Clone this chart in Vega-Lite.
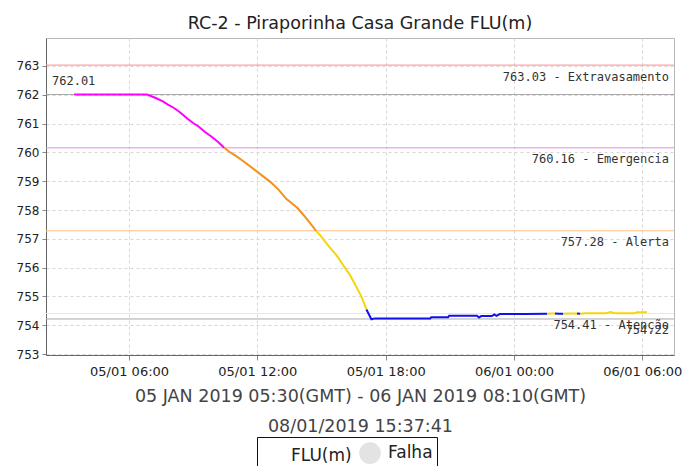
{
  "$schema": "https://vega.github.io/schema/vega-lite/v6.json",
  "width": 628,
  "height": 317,
  "autosize": "none",
  "padding": {"left": 46, "top": 38, "right": 12, "bottom": 111},
  "background": "white",
  "title": {
    "text": "RC-2 - Piraporinha Casa Grande FLU(m)",
    "anchor": "middle",
    "offset": 6,
    "font": "DejaVu Sans",
    "fontSize": 17.5,
    "fontWeight": "normal",
    "color": "#222222"
  },
  "config": {
    "view": {"stroke": "#b8b8b8"},
    "axis": {"gridDash": [3, 3], "gridColor": "#d6d6d6", "domainColor": "#888888", "tickColor": "#888888"}
  },
  "datasets": {
    "serie": [
      {"t": "2019-01-05T03:26:00Z", "v": 762.01, "nivel": "Emergencia", "seg": 1},
      {"t": "2019-01-05T04:30:00Z", "v": 762.01, "nivel": "Emergencia", "seg": 1},
      {"t": "2019-01-05T05:30:00Z", "v": 762.01, "nivel": "Emergencia", "seg": 1},
      {"t": "2019-01-05T06:50:00Z", "v": 762.01, "nivel": "Emergencia", "seg": 1},
      {"t": "2019-01-05T07:05:00Z", "v": 761.94, "nivel": "Emergencia", "seg": 1},
      {"t": "2019-01-05T07:18:00Z", "v": 761.87, "nivel": "Emergencia", "seg": 1},
      {"t": "2019-01-05T07:35:00Z", "v": 761.77, "nivel": "Emergencia", "seg": 1},
      {"t": "2019-01-05T07:49:00Z", "v": 761.66, "nivel": "Emergencia", "seg": 1},
      {"t": "2019-01-05T08:05:00Z", "v": 761.55, "nivel": "Emergencia", "seg": 1},
      {"t": "2019-01-05T08:20:00Z", "v": 761.42, "nivel": "Emergencia", "seg": 1},
      {"t": "2019-01-05T08:32:00Z", "v": 761.30, "nivel": "Emergencia", "seg": 1},
      {"t": "2019-01-05T08:44:00Z", "v": 761.17, "nivel": "Emergencia", "seg": 1},
      {"t": "2019-01-05T09:00:00Z", "v": 761.02, "nivel": "Emergencia", "seg": 1},
      {"t": "2019-01-05T09:15:00Z", "v": 760.90, "nivel": "Emergencia", "seg": 1},
      {"t": "2019-01-05T09:34:00Z", "v": 760.70, "nivel": "Emergencia", "seg": 1},
      {"t": "2019-01-05T09:50:00Z", "v": 760.56, "nivel": "Emergencia", "seg": 1},
      {"t": "2019-01-05T10:10:00Z", "v": 760.36, "nivel": "Emergencia", "seg": 1},
      {"t": "2019-01-05T10:27:00Z", "v": 760.16, "nivel": "Emergencia", "seg": 1},
      {"t": "2019-01-05T10:27:00Z", "v": 760.16, "nivel": "Alerta", "seg": 2},
      {"t": "2019-01-05T10:45:00Z", "v": 759.99, "nivel": "Alerta", "seg": 2},
      {"t": "2019-01-05T11:00:00Z", "v": 759.88, "nivel": "Alerta", "seg": 2},
      {"t": "2019-01-05T11:20:00Z", "v": 759.70, "nivel": "Alerta", "seg": 2},
      {"t": "2019-01-05T11:49:00Z", "v": 759.43, "nivel": "Alerta", "seg": 2},
      {"t": "2019-01-05T12:10:00Z", "v": 759.23, "nivel": "Alerta", "seg": 2},
      {"t": "2019-01-05T12:38:00Z", "v": 758.96, "nivel": "Alerta", "seg": 2},
      {"t": "2019-01-05T13:00:00Z", "v": 758.70, "nivel": "Alerta", "seg": 2},
      {"t": "2019-01-05T13:21:00Z", "v": 758.39, "nivel": "Alerta", "seg": 2},
      {"t": "2019-01-05T13:35:00Z", "v": 758.25, "nivel": "Alerta", "seg": 2},
      {"t": "2019-01-05T13:52:00Z", "v": 758.08, "nivel": "Alerta", "seg": 2},
      {"t": "2019-01-05T14:10:00Z", "v": 757.82, "nivel": "Alerta", "seg": 2},
      {"t": "2019-01-05T14:29:00Z", "v": 757.53, "nivel": "Alerta", "seg": 2},
      {"t": "2019-01-05T14:45:00Z", "v": 757.28, "nivel": "Alerta", "seg": 2},
      {"t": "2019-01-05T14:45:00Z", "v": 757.28, "nivel": "Atenção", "seg": 3},
      {"t": "2019-01-05T15:00:00Z", "v": 757.07, "nivel": "Atenção", "seg": 3},
      {"t": "2019-01-05T15:20:00Z", "v": 756.75, "nivel": "Atenção", "seg": 3},
      {"t": "2019-01-05T15:43:00Z", "v": 756.42, "nivel": "Atenção", "seg": 3},
      {"t": "2019-01-05T16:00:00Z", "v": 756.10, "nivel": "Atenção", "seg": 3},
      {"t": "2019-01-05T16:19:00Z", "v": 755.76, "nivel": "Atenção", "seg": 3},
      {"t": "2019-01-05T16:35:00Z", "v": 755.40, "nivel": "Atenção", "seg": 3},
      {"t": "2019-01-05T16:50:00Z", "v": 755.05, "nivel": "Atenção", "seg": 3},
      {"t": "2019-01-05T17:00:00Z", "v": 754.75, "nivel": "Atenção", "seg": 3},
      {"t": "2019-01-05T17:06:00Z", "v": 754.55, "nivel": "Atenção", "seg": 3},
      {"t": "2019-01-05T17:06:00Z", "v": 754.55, "nivel": "Normal", "seg": 4},
      {"t": "2019-01-05T17:20:00Z", "v": 754.21, "nivel": "Normal", "seg": 4},
      {"t": "2019-01-05T17:30:00Z", "v": 754.24, "nivel": "Normal", "seg": 4},
      {"t": "2019-01-05T18:30:00Z", "v": 754.24, "nivel": "Normal", "seg": 4},
      {"t": "2019-01-05T19:30:00Z", "v": 754.24, "nivel": "Normal", "seg": 4},
      {"t": "2019-01-05T20:05:00Z", "v": 754.24, "nivel": "Normal", "seg": 4},
      {"t": "2019-01-05T20:08:00Z", "v": 754.28, "nivel": "Normal", "seg": 4},
      {"t": "2019-01-05T20:55:00Z", "v": 754.28, "nivel": "Normal", "seg": 4},
      {"t": "2019-01-05T20:58:00Z", "v": 754.33, "nivel": "Normal", "seg": 4},
      {"t": "2019-01-05T22:16:00Z", "v": 754.33, "nivel": "Normal", "seg": 4},
      {"t": "2019-01-05T22:22:00Z", "v": 754.27, "nivel": "Normal", "seg": 4},
      {"t": "2019-01-05T22:28:00Z", "v": 754.32, "nivel": "Normal", "seg": 4},
      {"t": "2019-01-05T22:58:00Z", "v": 754.32, "nivel": "Normal", "seg": 4},
      {"t": "2019-01-05T23:05:00Z", "v": 754.38, "nivel": "Normal", "seg": 4},
      {"t": "2019-01-05T23:11:00Z", "v": 754.33, "nivel": "Normal", "seg": 4},
      {"t": "2019-01-05T23:20:00Z", "v": 754.39, "nivel": "Normal", "seg": 4},
      {"t": "2019-01-06T00:30:00Z", "v": 754.39, "nivel": "Normal", "seg": 4},
      {"t": "2019-01-06T01:33:00Z", "v": 754.40, "nivel": "Normal", "seg": 4},
      {"t": "2019-01-06T01:33:00Z", "v": 754.40, "nivel": "Atenção", "seg": 5},
      {"t": "2019-01-06T01:44:00Z", "v": 754.41, "nivel": "Atenção", "seg": 5},
      {"t": "2019-01-06T01:55:00Z", "v": 754.41, "nivel": "Atenção", "seg": 5},
      {"t": "2019-01-06T01:55:00Z", "v": 754.41, "nivel": "Normal", "seg": 6},
      {"t": "2019-01-06T02:06:00Z", "v": 754.40, "nivel": "Normal", "seg": 6},
      {"t": "2019-01-06T02:18:00Z", "v": 754.40, "nivel": "Normal", "seg": 6},
      {"t": "2019-01-06T02:18:00Z", "v": 754.40, "nivel": "Atenção", "seg": 7},
      {"t": "2019-01-06T02:35:00Z", "v": 754.41, "nivel": "Atenção", "seg": 7},
      {"t": "2019-01-06T02:57:00Z", "v": 754.41, "nivel": "Atenção", "seg": 7},
      {"t": "2019-01-06T02:57:00Z", "v": 754.41, "nivel": "Normal", "seg": 8},
      {"t": "2019-01-06T03:06:00Z", "v": 754.40, "nivel": "Normal", "seg": 8},
      {"t": "2019-01-06T03:06:00Z", "v": 754.40, "nivel": "Atenção", "seg": 9},
      {"t": "2019-01-06T03:20:00Z", "v": 754.42, "nivel": "Atenção", "seg": 9},
      {"t": "2019-01-06T04:19:00Z", "v": 754.42, "nivel": "Atenção", "seg": 9},
      {"t": "2019-01-06T04:31:00Z", "v": 754.46, "nivel": "Atenção", "seg": 9},
      {"t": "2019-01-06T04:40:00Z", "v": 754.43, "nivel": "Atenção", "seg": 9},
      {"t": "2019-01-06T04:49:00Z", "v": 754.42, "nivel": "Atenção", "seg": 9},
      {"t": "2019-01-06T05:38:00Z", "v": 754.42, "nivel": "Atenção", "seg": 9},
      {"t": "2019-01-06T05:45:00Z", "v": 754.45, "nivel": "Atenção", "seg": 9},
      {"t": "2019-01-06T06:13:00Z", "v": 754.45, "nivel": "Atenção", "seg": 9}
    ],
    "limites": [
      {"v": 763.03, "label": "763.03 - Extravasamento", "kind": "Extravasamento"},
      {"v": 762.01, "label": "762.01", "kind": "Máximo"},
      {"v": 760.16, "label": "760.16 - Emergencia", "kind": "Emergencia"},
      {"v": 757.28, "label": "757.28 - Alerta", "kind": "Alerta"},
      {"v": 754.41, "label": "754.41 - Atenção", "kind": "Atenção"},
      {"v": 754.22, "label": "754.22", "kind": "Mínimo"}
    ],
    "legenda": [
      {"serie": "FLU(m)"},
      {"serie": "Falha"}
    ]
  },
  "encoding": {
    "y": {
      "field": "v",
      "type": "quantitative",
      "scale": {"domain": [752.97, 763.97], "nice": false, "zero": false},
      "axis": {
        "values": [753, 754, 755, 756, 757, 758, 759, 760, 761, 762, 763],
        "title": null,
        "labelFont": "DejaVu Sans",
        "labelFontSize": 12,
        "labelColor": "#222222",
        "labelOverlap": false,
        "tickSize": 4,
        "labelPadding": 3,
        "domainColor": "#666666"
      }
    }
  },
  "layer": [
    {
      "data": {"name": "limites"},
      "mark": {"type": "rule", "strokeWidth": 1},
      "encoding": {
        "stroke": {
          "field": "kind",
          "type": "nominal",
          "scale": {
            "domain": ["Extravasamento", "Máximo", "Emergencia", "Alerta", "Atenção", "Mínimo"],
            "range": ["#ff8c8c", "#a8a8a8", "#ee88ee", "#ffc285", "#fcee90", "#a8a8a8"]
          },
          "legend": null
        }
      }
    },
    {
      "data": {"name": "serie"},
      "mark": {"type": "line", "strokeWidth": 2},
      "encoding": {
        "x": {
          "field": "t",
          "type": "temporal",
          "scale": {
            "type": "utc",
            "domain": [1546654020000, 1546759740000],
            "nice": false
          },
          "axis": {
            "labelExpr": "utcFormat(datum.value, '%d/%m %H:%M')",
            "values": [1546668000000, 1546689600000, 1546711200000, 1546732800000, 1546754400000],
            "labelFont": "DejaVu Sans",
            "labelFontSize": 13,
            "labelColor": "#222222",
            "labelPadding": 5,
            "labelOverlap": false,
            "tickSize": 5,
            "domainColor": "#666666",
            "title": ["05 JAN 2019 05:30(GMT) - 06 JAN 2019 08:10(GMT)", "08/01/2019 15:37:41"],
            "titleFont": "DejaVu Sans",
            "titleFontSize": 17.5,
            "titleLineHeight": 30,
            "titleFontWeight": "normal",
            "titleColor": "#444444",
            "titlePadding": 9
          }
        },
        "detail": {"field": "seg", "type": "nominal"},
        "color": {
          "field": "nivel",
          "type": "nominal",
          "scale": {
            "domain": ["Emergencia", "Alerta", "Atenção", "Normal"],
            "range": ["#ff00ff", "#f5901e", "#f5d60a", "#1010f0"]
          },
          "legend": null
        }
      }
    },
    {
      "data": {"name": "limites"},
      "transform": [{"filter": "datum.kind !== 'Máximo'"}],
      "mark": {"type": "text", "align": "right", "baseline": "middle", "dx": -5, "dy": 11.5, "font": "DejaVu Sans Mono", "fontSize": 12, "color": "#333333"},
      "encoding": {
        "x": {"value": 628},
        "text": {"field": "label", "type": "nominal"}
      }
    },
    {
      "data": {"name": "limites"},
      "transform": [{"filter": "datum.kind === 'Máximo'"}],
      "mark": {"type": "text", "align": "left", "baseline": "middle", "dx": 6, "dy": -13, "font": "DejaVu Sans Mono", "fontSize": 12, "color": "#333333"},
      "encoding": {
        "x": {"value": 0},
        "text": {"field": "label", "type": "nominal"}
      }
    },
    {
      "data": {"name": "legenda"},
      "mark": {"type": "point", "filled": true},
      "encoding": {
        "x": {"field": "t", "type": "temporal"},
        "fill": {
          "field": "serie",
          "type": "nominal",
          "scale": {"domain": ["FLU(m)", "Falha"], "range": ["#0000ff", "#c8c8c8"]},
          "legend": {
            "orient": "none",
            "legendX": 211,
            "legendY": 399,
            "direction": "horizontal",
            "title": null,
            "strokeColor": "#111111",
            "padding": 4,
            "labelFont": "DejaVu Sans",
            "labelFontSize": 17,
            "labelColor": "#222222",
            "labelOffset": 6,
            "columnPadding": 4,
            "symbolSize": 470,
            "encode": {
              "symbols": {
                "stroke": {"signal": "datum.value === 'Falha' ? 'transparent' : '#0000ff'"},
                "strokeWidth": {"value": 2},
                "size": {"signal": "datum.value === 'Falha' ? 90 : 470"}
              }
            }
          }
        },
        "shape": {
          "field": "serie",
          "type": "nominal",
          "scale": {"domain": ["FLU(m)", "Falha"], "range": ["stroke", "circle"]}
        }
      }
    }
  ]
}
